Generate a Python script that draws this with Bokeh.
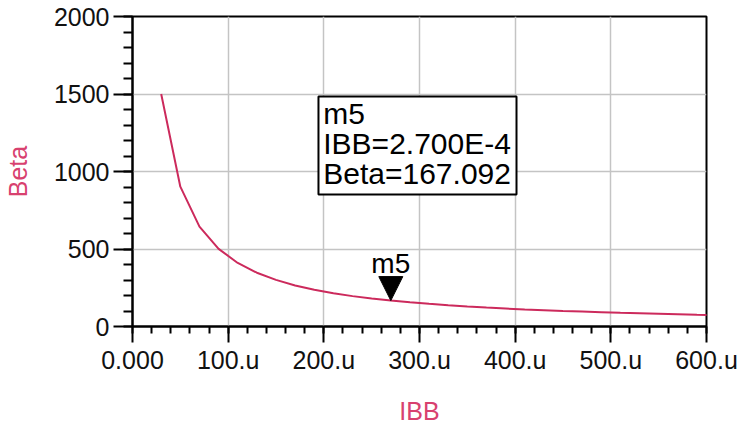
from bokeh.plotting import figure
from bokeh.models import Range1d, FixedTicker, BoxAnnotation, Label
from bokeh.embed import file_html
from bokeh.resources import INLINE

# ---- data ----
ibb_u = [30, 50, 70, 90, 110, 130, 150, 170, 190, 210, 230, 250, 270, 290, 310,
         330, 350, 370, 390, 410, 430, 450, 470, 490, 510, 530, 550, 570, 590, 610]
beta = [1500, 902, 644, 501, 410, 347, 301, 265, 237, 215, 196, 180, 167.092, 156, 146,
        137, 129, 122, 116, 110, 105, 100, 96, 92, 88, 85, 82, 79, 76, 74]
x_ticks = [0, 100, 200, 300, 400, 500, 600]
x_tick_labels = ["0.000", "100.u", "200.u", "300.u", "400.u", "500.u", "600.u"]
y_ticks = [0, 500, 1000, 1500, 2000]
marker_ibb_u = 270
marker_beta = 167.092
marker_name = "m5"
readout_lines = ["m5", "IBB=2.700E-4", "Beta=167.092"]

# ---- style ----
FONT = "Liberation Sans"
CURVE = "#cc2a5c"
LABEL_C = "#d8416f"
FW, FH = 574, 310
X0, X1, Y0, Y1 = 0, 600, 0, 2000
px_x = (X1 - X0) / FW
px_y = (Y1 - Y0) / FH

p = figure(frame_width=FW, frame_height=FH, output_backend="svg", toolbar_location=None,
           x_range=Range1d(X0, X1), y_range=Range1d(Y0, Y1),
           min_border_left=132, min_border_right=32, min_border_top=16, min_border_bottom=98)
p.background_fill_color = "white"
p.border_fill_color = "white"
p.outline_line_color = "black"
p.outline_line_width = 2

p.xaxis.ticker = FixedTicker(ticks=x_ticks, minor_ticks=list(range(0, 601, 20)))
p.yaxis.ticker = FixedTicker(ticks=y_ticks, minor_ticks=list(range(0, 2001, 100)))
p.xaxis.major_label_overrides = {t: l for t, l in zip(x_ticks, x_tick_labels)}

for ax in (p.xaxis, p.yaxis):
    ax.axis_line_color = "black"
    ax.axis_line_width = 2
    ax.major_tick_line_color = "black"
    ax.major_tick_line_width = 2
    ax.minor_tick_line_color = "black"
    ax.minor_tick_line_width = 2
    ax.major_tick_in = 0
    ax.minor_tick_in = 0
    ax.major_label_text_font = FONT
    ax.major_label_text_font_size = "25px"
    ax.major_label_text_color = "#111111"
    ax.axis_label_text_font = FONT
    ax.axis_label_text_font_size = "25px"
    ax.axis_label_text_font_style = "normal"
    ax.axis_label_text_color = LABEL_C

p.xaxis.major_tick_out = 16
p.xaxis.minor_tick_out = 7
p.yaxis.major_tick_out = 19
p.yaxis.minor_tick_out = 9
p.xaxis.major_label_standoff = 3
p.yaxis.major_label_standoff = 4
p.xaxis.axis_label = "IBB"
p.yaxis.axis_label = "Beta"
p.xaxis.axis_label_standoff = 20
p.yaxis.axis_label_standoff = 19

p.grid.grid_line_color = "#c4c4c4"
p.grid.grid_line_width = 1.5

p.line(ibb_u, beta, line_color=CURVE, line_width=2)

# marker triangle with its tip on the curve point
tri_x = [marker_ibb_u - 12 * px_x, marker_ibb_u + 12 * px_x, marker_ibb_u]
tri_y = [marker_beta + 24 * px_y, marker_beta + 24 * px_y, marker_beta]
p.patch(tri_x, tri_y, fill_color="black", line_color="black")
p.add_layout(Label(x=marker_ibb_u, y=marker_beta + 37 * px_y, text=marker_name,
                   text_align="center", text_baseline="alphabetic",
                   text_font=FONT, text_font_size="28px", text_color="black"))

# readout box
box = BoxAnnotation(left=194.4, right=401.4, bottom=851.6, top=1483.9,
                    fill_color="white", fill_alpha=1.0, line_color="black",
                    line_width=2, line_alpha=1.0)
p.add_layout(box)
for i, txt in enumerate(readout_lines):
    p.add_layout(Label(x=199.4, y=1310 + 10 * px_y - i * 30 * px_y, text=txt,
                       text_align="left", text_baseline="alphabetic",
                       text_font=FONT, text_font_size="30px", text_color="black"))

open("out.html", "w").write(file_html(p, INLINE))
